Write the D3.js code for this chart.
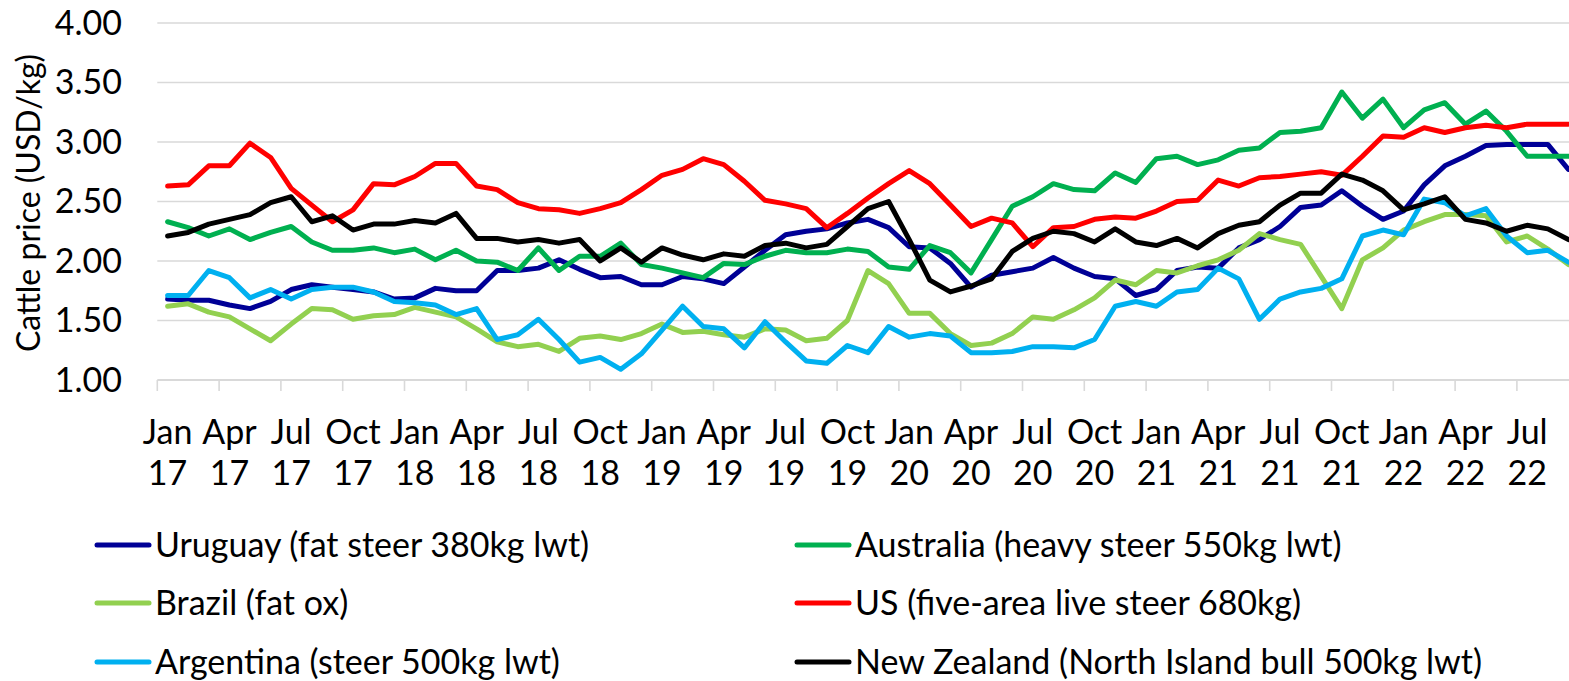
<!DOCTYPE html>
<html>
<head>
<meta charset="utf-8">
<script src="https://cdn.jsdelivr.net/npm/d3@7"></script>
<style>
  html, body { margin: 0; padding: 0; background: #ffffff; overflow: hidden; }
  svg { display: block; }
  text { font-family: Lato, "Open Sans", "DejaVu Sans", sans-serif; fill: #000; }
</style>
</head>
<body>
<svg id="chart" width="1569" height="681"></svg>
<script>
// ---- Data (monthly, Jan 2017 to Sep 2022) ----
const months = ["Jan","Feb","Mar","Apr","May","Jun","Jul","Aug","Sep","Oct","Nov","Dec"];
const years = ["17","18","19","20","21","22"];
const categories = [];
years.forEach(y => months.forEach(m => categories.push(m + " " + y)));
categories.splice(69); // Jan 17 .. Sep 22

const uruguay = [1.68,1.67,1.67,1.63,1.60,1.66,1.76,1.80,1.78,1.76,1.74,1.68,
  1.69,1.77,1.75,1.75,1.92,1.92,1.94,2.01,1.93,1.86,1.87,1.80,
  1.80,1.87,1.85,1.81,1.95,2.09,2.22,2.25,2.27,2.32,2.35,2.28,
  2.12,2.11,1.98,1.78,1.88,1.91,1.94,2.03,1.94,1.87,1.85,1.71,
  1.76,1.92,1.95,1.94,2.11,2.18,2.29,2.45,2.47,2.59,2.46,2.35,
  2.42,2.64,2.80,2.88,2.97,2.98,2.98,2.98,2.77];
const australia = [2.33,2.28,2.21,2.27,2.18,2.24,2.29,2.16,2.09,2.09,2.11,2.07,
  2.10,2.01,2.09,2.00,1.99,1.92,2.11,1.92,2.04,2.04,2.15,1.97,
  1.94,1.90,1.86,1.98,1.97,2.04,2.09,2.07,2.07,2.10,2.08,1.95,
  1.93,2.13,2.07,1.90,2.18,2.46,2.54,2.65,2.60,2.59,2.74,2.66,
  2.86,2.88,2.81,2.85,2.93,2.95,3.08,3.09,3.12,3.42,3.20,3.36,
  3.12,3.27,3.33,3.15,3.26,3.09,2.88,2.88,2.88];
const brazil = [1.62,1.64,1.57,1.53,1.43,1.33,1.47,1.60,1.59,1.51,1.54,1.55,
  1.61,1.57,1.53,1.43,1.32,1.28,1.30,1.24,1.35,1.37,1.34,1.39,
  1.47,1.40,1.41,1.38,1.36,1.43,1.42,1.33,1.35,1.50,1.92,1.81,
  1.56,1.56,1.39,1.29,1.31,1.39,1.53,1.51,1.59,1.69,1.84,1.80,
  1.92,1.90,1.96,2.01,2.09,2.23,2.18,2.14,1.87,1.60,2.01,2.11,
  2.26,2.33,2.39,2.39,2.38,2.16,2.21,2.10,1.97];
const us = [2.63,2.64,2.80,2.80,2.99,2.87,2.61,2.47,2.33,2.43,2.65,2.64,
  2.71,2.82,2.82,2.63,2.60,2.49,2.44,2.43,2.40,2.44,2.49,2.60,
  2.72,2.77,2.86,2.81,2.67,2.51,2.48,2.44,2.28,2.40,2.53,2.65,
  2.76,2.65,2.47,2.29,2.36,2.32,2.12,2.28,2.29,2.35,2.37,2.36,
  2.42,2.50,2.51,2.68,2.63,2.70,2.71,2.73,2.75,2.72,2.88,3.05,
  3.04,3.12,3.08,3.12,3.14,3.12,3.15,3.15,3.15];
const argentina = [1.71,1.71,1.92,1.86,1.69,1.76,1.68,1.76,1.78,1.78,1.74,1.66,
  1.65,1.63,1.55,1.60,1.34,1.38,1.51,1.34,1.15,1.19,1.09,1.22,
  1.42,1.62,1.45,1.43,1.27,1.49,1.32,1.16,1.14,1.29,1.23,1.45,
  1.36,1.39,1.37,1.23,1.23,1.24,1.28,1.28,1.27,1.34,1.62,1.66,
  1.62,1.74,1.76,1.94,1.85,1.51,1.68,1.74,1.77,1.85,2.21,2.26,
  2.22,2.52,2.49,2.38,2.44,2.21,2.07,2.09,1.99];
const newZealand = [2.21,2.24,2.31,2.35,2.39,2.49,2.54,2.33,2.38,2.26,2.31,2.31,
  2.34,2.32,2.40,2.19,2.19,2.16,2.18,2.15,2.18,2.00,2.11,1.99,
  2.11,2.05,2.01,2.06,2.04,2.13,2.15,2.11,2.14,2.29,2.44,2.50,
  2.18,1.84,1.74,1.79,1.85,2.08,2.19,2.25,2.23,2.16,2.27,2.16,
  2.13,2.19,2.11,2.23,2.30,2.33,2.47,2.57,2.57,2.73,2.68,2.59,
  2.43,2.48,2.54,2.35,2.32,2.25,2.30,2.27,2.18];

const seriesNames = ["Uruguay (fat steer 380kg lwt)", "Australia (heavy steer 550kg lwt)",
  "Brazil (fat ox)", "US (five-area live steer 680kg)",
  "Argentina (steer 500kg lwt)", "New Zealand (North Island bull 500kg lwt)"];
const seriesValues = [uruguay, australia, brazil, us, argentina, newZealand];
const seriesColors = ["#000096", "#00B050", "#92D050", "#FF0000", "#00B0F0", "#000000"];

const yTicks = [1.00, 1.50, 2.00, 2.50, 3.00, 3.50, 4.00];
const yTitle = "Cattle price (USD/kg)";

// ---- Layout ----
const W = 1569, H = 681;
const plotLeft = 157.3, band = 20.6;
const plotTop = 23, plotBottom = 380;
const fontPx = 34;
const svg = d3.select("#chart");

const x = d3.scaleBand().domain(categories).range([plotLeft, plotLeft + band * categories.length]).paddingInner(0).paddingOuter(0);
const y = d3.scaleLinear().domain([1, 4]).range([plotBottom, plotTop]);
const cx = d => x(d) + x.bandwidth() / 2;

// gridlines
svg.append("g").selectAll("line").data(yTicks.filter(v => v > 1)).join("line")
  .attr("x1", plotLeft).attr("x2", W + 20)
  .attr("y1", d => y(d)).attr("y2", d => y(d))
  .attr("stroke", "#d9d9d9").attr("stroke-width", 1.6);

// x axis line
svg.append("line").attr("x1", plotLeft).attr("x2", W + 20).attr("y1", y(1)).attr("y2", y(1))
  .attr("stroke", "#d9d9d9").attr("stroke-width", 1.8);

// x tick marks at every 3rd category boundary
const tickCats = categories.filter((c, i) => i % 3 === 0);
svg.append("g").selectAll("line").data(tickCats).join("line")
  .attr("x1", d => x(d)).attr("x2", d => x(d))
  .attr("y1", y(1)).attr("y2", y(1) + 11)
  .attr("stroke", "#d9d9d9").attr("stroke-width", 1.6);

// x labels
const xl = svg.append("g").selectAll("text").data(tickCats).join("text")
  .attr("text-anchor", "middle")
  .style("font-size", fontPx + "px");
xl.append("tspan").attr("x", d => cx(d)).attr("y", 444).text(d => d.split(" ")[0]);
xl.append("tspan").attr("x", d => cx(d)).attr("y", 485).text(d => d.split(" ")[1]);

// y tick labels
svg.append("g").selectAll("text").data(yTicks).join("text")
  .attr("x", 122).attr("y", d => y(d)).attr("dy", "0.35em")
  .attr("text-anchor", "end").style("font-size", fontPx + "px")
  .text(d => d.toFixed(2));

// y title
svg.append("text")
  .attr("transform", "translate(40,203) rotate(-90)")
  .attr("text-anchor", "middle").style("font-size", "32px")
  .text(yTitle);

// lines
const line = d3.line().x((d, i) => cx(categories[i])).y(d => y(d));
svg.append("g").selectAll("path").data(seriesValues).join("path")
  .attr("d", d => line(d))
  .attr("fill", "none")
  .attr("stroke", (d, i) => seriesColors[i])
  .attr("stroke-width", 5)
  .attr("stroke-linejoin", "round")
  .attr("stroke-linecap", "round");

// legend
const legendCols = [95, 795];
const legendRows = [545, 603, 662];
const lg = svg.append("g").selectAll("g").data(seriesNames).join("g")
  .attr("transform", (d, i) => `translate(${legendCols[i % 2]},${legendRows[Math.floor(i / 2)]})`);
lg.append("line").attr("x1", 2).attr("x2", 54).attr("y1", 0).attr("y2", 0)
  .attr("stroke", (d, i) => seriesColors[i]).attr("stroke-width", 5).attr("stroke-linecap", "round");
lg.append("text").attr("x", 60).attr("y", 0).attr("dy", "0.35em")
  .style("font-size", fontPx + "px").text(d => d);
</script>
</body>
</html>
